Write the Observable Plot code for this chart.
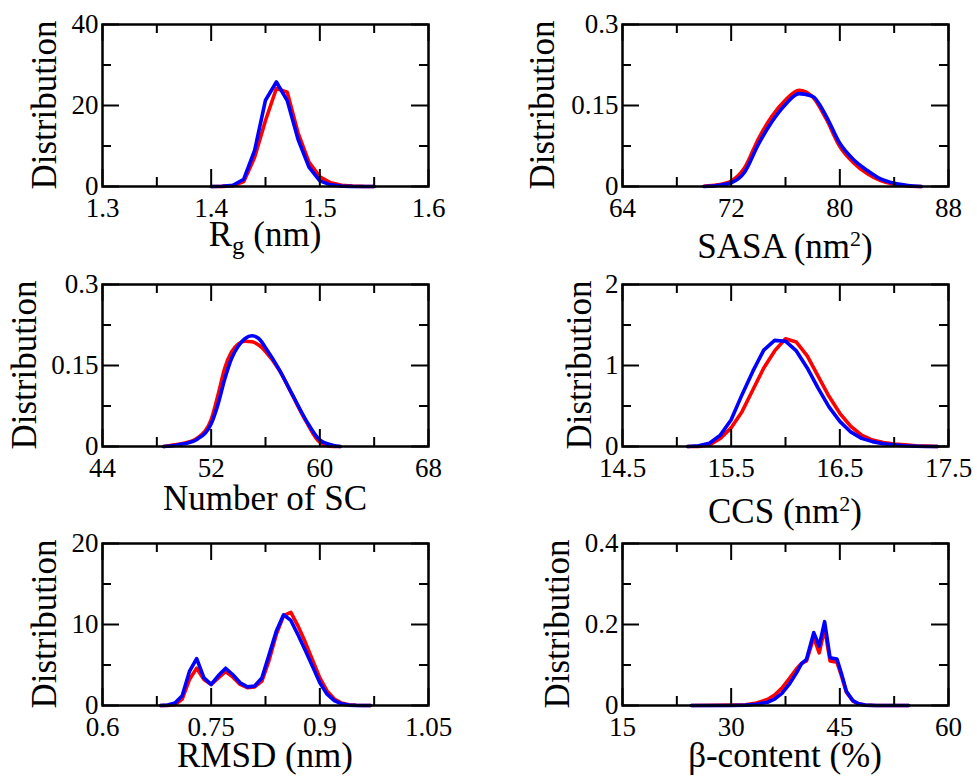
<!DOCTYPE html>
<html><head><meta charset="utf-8">
<script src="https://cdn.jsdelivr.net/npm/d3@7"></script>
<script src="https://cdn.jsdelivr.net/npm/@observablehq/plot@0.6"></script>
<style>
html,body{margin:0;padding:0;background:#fff;}
#wrap{position:relative;width:977px;height:778px;background:#fff;overflow:hidden;}
#wrap svg{position:absolute;overflow:visible;}
.lab{position:absolute;font-size:35px;color:#000;white-space:nowrap;line-height:1;}
.lab sup{font-size:22px;}
.lab sub{font-size:25px;}
</style></head><body>
<div id="wrap">
<div class="lab" id="yl0" style="font-family:'Liberation Serif'">Distribution</div>
<div class="lab" id="yl1" style="font-family:'Liberation Serif'">Distribution</div>
<div class="lab" id="yl2" style="font-family:'Liberation Serif'">Distribution</div>
<div class="lab" id="yl3" style="font-family:'Liberation Serif'">Distribution</div>
<div class="lab" id="yl4" style="font-family:'Liberation Serif'">Distribution</div>
<div class="lab" id="yl5" style="font-family:'Liberation Serif'">Distribution</div>
<div class="lab" id="xl0" style="font-family:'Liberation Serif'">R<sub>g</sub> (nm)</div>
<div class="lab" id="xl1" style="font-family:'Liberation Serif'">SASA (nm<sup>2</sup>)</div>
<div class="lab" id="xl2" style="font-family:'Liberation Serif'">Number of SC</div>
<div class="lab" id="xl3" style="font-family:'Liberation Serif'">CCS (nm<sup>2</sup>)</div>
<div class="lab" id="xl4" style="font-family:'Liberation Serif'">RMSD (nm)</div>
<div class="lab" id="xl5" style="font-family:'Liberation Serif'">β-content (%)</div>
</div>
<script>
// ---------- data ----------
// Rg (nm)
const rgX    = [1.40,1.41,1.42,1.43,1.44,1.45,1.46,1.47,1.48,1.49,1.50,1.51,1.52,1.53,1.54,1.55];
const rgRed  = [0,0.03,0.2,1.2,7.2,16.3,24.2,23.3,13.2,6.0,2.4,0.9,0.3,0.1,0.02,0];
const rgBlue = [0,0.05,0.3,1.8,8.9,21.3,25.8,21.2,11.6,4.8,1.4,0.4,0.1,0.02,0,0];
const rgXTicks = [1.3,1.4,1.5,1.6], rgXMinor = [1.35,1.45,1.55];
const rgYTicks = [0,20,40], rgYMinor = [10,30];

// SASA (nm^2)
const sasaX    = [70,71,72,73,74,75,76,77,78,79,80,81,82,83,84,85,86];
const sasaRed  = [0.0005,0.003,0.010,0.035,0.088,0.130,0.160,0.178,0.166,0.125,0.074,0.044,0.024,0.011,0.004,0.001,0];
const sasaBlue = [0,0.002,0.007,0.027,0.078,0.120,0.152,0.172,0.167,0.130,0.080,0.050,0.030,0.014,0.006,0.002,0];
const sasaXTicks = [64,72,80,88], sasaXMinor = [68,76,84];
const sasaYTicks = [0,0.15,0.3], sasaYMinor = [0.075,0.225];

// Number of SC
const scX    = [48.5,49,50,51,52,52.5,53,53.5,54,54.5,55,55.5,56,57,58,59,60,61,61.5];
const scRed  = [0,0.002,0.006,0.016,0.05,0.095,0.145,0.175,0.19,0.195,0.194,0.188,0.176,0.142,0.094,0.046,0.008,0,0];
const scBlue = [0,0.001,0.005,0.014,0.042,0.078,0.125,0.163,0.186,0.2,0.205,0.2,0.183,0.143,0.095,0.048,0.012,0.002,0];
const scXTicks = [44,52,60,68], scXMinor = [48,56,64];
const scYTicks = [0,0.15,0.3], scYMinor = [0.075,0.225];

// CCS (nm^2)
const ccsX    = [15.1,15.2,15.3,15.4,15.5,15.6,15.7,15.8,15.9,16.0,16.1,16.2,16.3,16.4,16.5,16.6,16.7,16.8,16.9,17.0,17.1,17.2,17.3,17.4];
const ccsRed  = [0,0,0.02,0.10,0.23,0.43,0.70,0.97,1.18,1.33,1.29,1.12,0.87,0.62,0.41,0.25,0.14,0.08,0.05,0.03,0.02,0.01,0.005,0];
const ccsBlue = [0,0.01,0.04,0.14,0.33,0.64,0.93,1.19,1.31,1.30,1.18,0.97,0.72,0.49,0.31,0.18,0.10,0.06,0.035,0.02,0.01,0.004,0,0];
const ccsXTicks = [14.5,15.5,16.5,17.5], ccsXMinor = [15,16,17];
const ccsYTicks = [0,1,2], ccsYMinor = [0.5,1.5];

// RMSD (nm)
const rmsdX    = [0.68,0.69,0.70,0.71,0.72,0.73,0.74,0.75,0.76,0.77,0.78,0.79,0.80,0.81,0.82,0.83,0.84,0.85,0.86,0.87,0.88,0.89,0.90,0.91,0.92,0.93,0.94,0.95,0.96,0.97];
const rmsdRed  = [0,0,0.1,0.8,3.2,4.6,3.2,2.6,3.4,4.2,3.5,2.6,2.2,2.3,3.0,5.6,8.8,11.1,11.5,9.8,7.8,5.6,3.4,1.8,0.8,0.3,0.1,0.03,0,0];
const rmsdBlue = [0,0.05,0.3,1.2,4.2,5.8,3.4,2.6,3.7,4.6,3.8,2.8,2.3,2.4,3.4,6.3,9.2,11.2,10.5,8.7,6.8,4.8,2.8,1.4,0.6,0.2,0.05,0.01,0,0];
const rmsdXTicks = [0.6,0.75,0.9,1.05], rmsdXMinor = [0.675,0.825,0.975];
const rmsdYTicks = [0,10,20], rmsdYMinor = [5,15];

// beta-content (%)
const betaX    = [24.5,30,32,33.5,35,36,37,38,39,39.7,40.4,41.4,42.15,42.9,43.65,44.6,45.2,45.9,46.8,47.6,48.5,50,54.5];
const betaRed  = [0,0.001,0.002,0.006,0.015,0.026,0.043,0.066,0.09,0.104,0.11,0.168,0.13,0.19,0.11,0.107,0.075,0.033,0.011,0.004,0.001,0,0];
const betaBlue = [0,0,0.001,0.003,0.008,0.016,0.03,0.052,0.08,0.103,0.114,0.18,0.147,0.207,0.118,0.115,0.08,0.035,0.012,0.004,0.001,0,0];
const betaXTicks = [15,30,45,60], betaXMinor = [22.5,37.5,52.5];
const betaYTicks = [0,0.2,0.4], betaYMinor = [0.1,0.3];

// ---------- layout ----------
const FONT = "Liberation Serif";
const FW = 326, FH = 162, ML = 100, MT = 20, MR = 20, MB = 80;
const fmt = d => String(d);

const panels = [
  {fx:102, fy:24, x:rgX, red:rgRed, blue:rgBlue, xd:[1.3,1.6], yd:[0,40], xt:rgXTicks, xm:rgXMinor, yt:rgYTicks, ym:rgYMinor,
   curve:"linear", yOff:47, xOff:64},
  {fx:622, fy:24, x:sasaX, red:sasaRed, blue:sasaBlue, xd:[64,88], yd:[0,0.3], xt:sasaXTicks, xm:sasaXMinor, yt:sasaYTicks, ym:sasaYMinor,
   curve:"monotone-x", yOff:69, xOff:71},
  {fx:102, fy:284, x:scX, red:scRed, blue:scBlue, xd:[44,68], yd:[0,0.3], xt:scXTicks, xm:scXMinor, yt:scYTicks, ym:scYMinor,
   curve:"monotone-x", yOff:67, xOff:63},
  {fx:622, fy:284, x:ccsX, red:ccsRed, blue:ccsBlue, xd:[14.5,17.5], yd:[0,2], xt:ccsXTicks, xm:ccsXMinor, yt:ccsYTicks, ym:ccsYMinor,
   curve:"linear", yOff:32, xOff:76},
  {fx:102, fy:543, x:rmsdX, red:rmsdRed, blue:rmsdBlue, xd:[0.6,1.05], yd:[0,20], xt:rmsdXTicks, xm:rmsdXMinor, yt:rmsdYTicks, ym:rmsdYMinor,
   curve:"linear", yOff:47, xOff:61},
  {fx:622, fy:543, x:betaX, red:betaRed, blue:betaBlue, xd:[15,60], yd:[0,0.4], xt:betaXTicks, xm:betaXMinor, yt:betaYTicks, ym:betaYMinor,
   curve:"linear", yOff:54, xOff:61}
];

const wrap = document.getElementById("wrap");
panels.forEach((p, k) => {
  const red = p.x.map((x, i) => ({x, y: p.red[i]}));
  const blue = p.x.map((x, i) => ({x, y: p.blue[i]}));
  const tk = {stroke: "black", strokeWidth: 2};
  const svg = Plot.plot({
    width: ML + FW + MR, height: MT + FH + MB,
    marginLeft: ML, marginRight: MR, marginTop: MT, marginBottom: MB,
    style: {fontFamily: FONT, background: "transparent", overflow: "visible"},
    x: {domain: p.xd}, y: {domain: p.yd},
    marks: [
      Plot.line(red, {x: "x", y: "y", stroke: "#ff0000", strokeWidth: 3.6, curve: p.curve, strokeLinejoin: "round"}),
      Plot.line(blue, {x: "x", y: "y", stroke: "#0000ff", strokeWidth: 3.6, curve: p.curve, strokeLinejoin: "round"}),
      Plot.tickX(p.xt, {x: d => d, insetTop: FH - 17, ...tk}),
      Plot.tickX(p.xt, {x: d => d, insetBottom: FH - 17, ...tk}),
      Plot.tickX(p.xm, {x: d => d, insetTop: FH - 9, ...tk}),
      Plot.tickX(p.xm, {x: d => d, insetBottom: FH - 9, ...tk}),
      Plot.tickY(p.yt, {y: d => d, insetRight: FW - 17, ...tk}),
      Plot.tickY(p.yt, {y: d => d, insetLeft: FW - 17, ...tk}),
      Plot.tickY(p.ym, {y: d => d, insetRight: FW - 9, ...tk}),
      Plot.tickY(p.ym, {y: d => d, insetLeft: FW - 9, ...tk}),
      Plot.frame({stroke: "black", strokeWidth: 2.5}),
      Plot.axisX(p.xt, {tickSize: 0, tickPadding: 11, fontSize: 27, fontFamily: FONT, tickFormat: fmt, label: null, fill: "black"}),
      Plot.axisY(p.yt, {tickSize: 0, tickPadding: 4, fontSize: 27, fontFamily: FONT, tickFormat: fmt, label: null, fill: "black"})
    ]
  });
  svg.setAttribute("font-family", FONT);
  svg.style.left = (p.fx - ML) + "px";
  svg.style.top = (p.fy - MT) + "px";
  wrap.insertBefore(svg, wrap.firstChild);
  // position the static labels
  const yl = document.getElementById("yl" + k);
  yl.style.left = (p.fx - p.yOff) + "px";
  yl.style.top = (p.fy + FH / 2) + "px";
  yl.style.transformOrigin = "0 0";
  yl.style.transform = "rotate(-90deg) translate(-50%, -80%)";
  const xl = document.getElementById("xl" + k);
  xl.style.left = (p.fx + FW / 2) + "px";
  xl.style.top = (p.fy + FH + p.xOff) + "px";
  xl.style.transform = "translate(-50%, -80%)";
});
</script></body></html>
